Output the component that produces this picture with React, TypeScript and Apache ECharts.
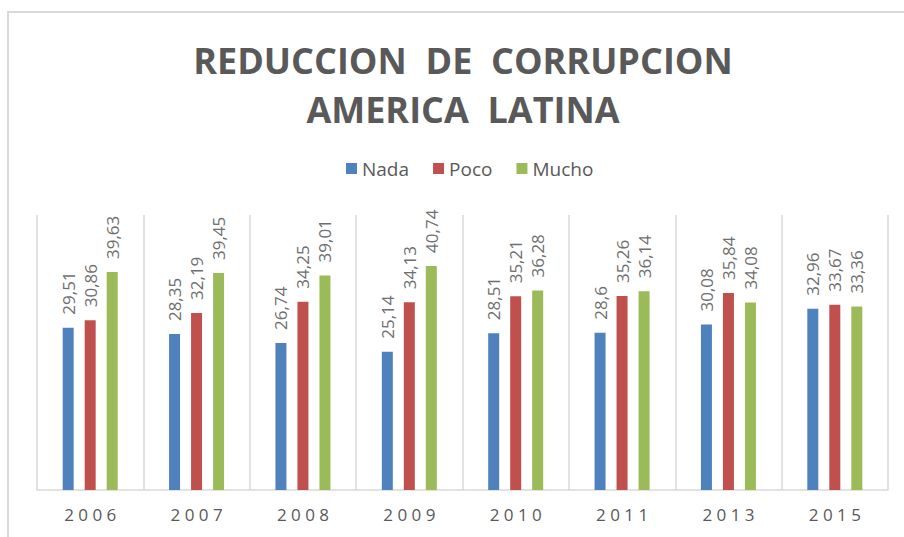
import React, { useEffect, useRef } from "react";
import * as echarts from "echarts";

const categories = ["2006", "2007", "2008", "2009", "2010", "2011", "2013", "2015"];
const nada = [29.51, 28.35, 26.74, 25.14, 28.51, 28.6, 30.08, 32.96];
const poco = [30.86, 32.19, 34.25, 34.13, 35.21, 35.26, 35.84, 33.67];
const mucho = [39.63, 39.45, 39.01, 40.74, 36.28, 36.14, 34.08, 33.36];

const FONT = "'Open Sans', 'DejaVu Sans', sans-serif";
const GRAY = "#595959";

export default function App() {
  const ref = useRef<HTMLDivElement>(null);
  useEffect(() => {
    if (!ref.current) return;
    const chart = echarts.init(ref.current, undefined, { renderer: "svg" });
    const label = {
      show: true,
      position: "top" as const,
      rotate: 90,
      align: "left" as const,
      verticalAlign: "middle" as const,
      distance: 13,
      color: "#6f6f6f",
      fontSize: 17,
      fontFamily: FONT,
      formatter: (p: any) => String(p.value).replace(".", ","),
    };
    const mk = (name: string, data: number[], color: string) => ({
      name,
      type: "bar" as const,
      data,
      barWidth: 11,
      barGap: "100%",
      itemStyle: { color },
      label,
    });
    chart.setOption({
      animation: false,
      backgroundColor: "#ffffff",
      textStyle: { fontFamily: FONT },
      graphic: [
        {
          type: "rect",
          shape: { x: 8, y: 12, width: 920, height: 560 },
          style: { fill: "none", stroke: "#d9d9d9", lineWidth: 2 },
          silent: true,
        },
        {
          type: "text",
          x: 463,
          y: 36,
          style: {
            text: "REDUCCION  DE  CORRUPCION\nAMERICA  LATINA",
            fontSize: 36,
            fontWeight: "bold",
            fontFamily: FONT,
            fill: GRAY,
            align: "center",
            verticalAlign: "top",
            lineHeight: 49,
          },
        },
      ],
      legend: {
        top: 154,
        left: 341,
        icon: "rect",
        itemWidth: 11,
        itemHeight: 11,
        itemGap: 24,
        textStyle: { color: GRAY, fontSize: 19, fontFamily: FONT },
        data: ["Nada", "Poco", "Mucho"],
      },
      grid: { left: 37, right: 16, top: 215, bottom: 47, containLabel: false },
      xAxis: {
        type: "category",
        data: categories,
        axisTick: { show: false },
        axisLine: { lineStyle: { color: "#d9d9d9", width: 1.5 } },
        splitLine: { show: true, lineStyle: { color: "#d9d9d9", width: 1.5 } },
        axisLabel: {
          color: GRAY,
          fontSize: 17,
          fontFamily: FONT,
          margin: 16,
          formatter: (v: string) => v.split("").join(" "),
        },
      },
      yAxis: {
        type: "value",
        min: 0,
        max: 50,
        show: false,
        splitLine: { show: false },
      },
      series: [
        mk("Nada", nada, "#4f81bd"),
        mk("Poco", poco, "#c0504d"),
        mk("Mucho", mucho, "#9bbb59"),
      ],
    });
    return () => chart.dispose();
  }, []);
  return (
    <div
      ref={ref}
      style={{ position: "fixed", left: 0, top: 0, width: 904, height: 537 }}
    />
  );
}
